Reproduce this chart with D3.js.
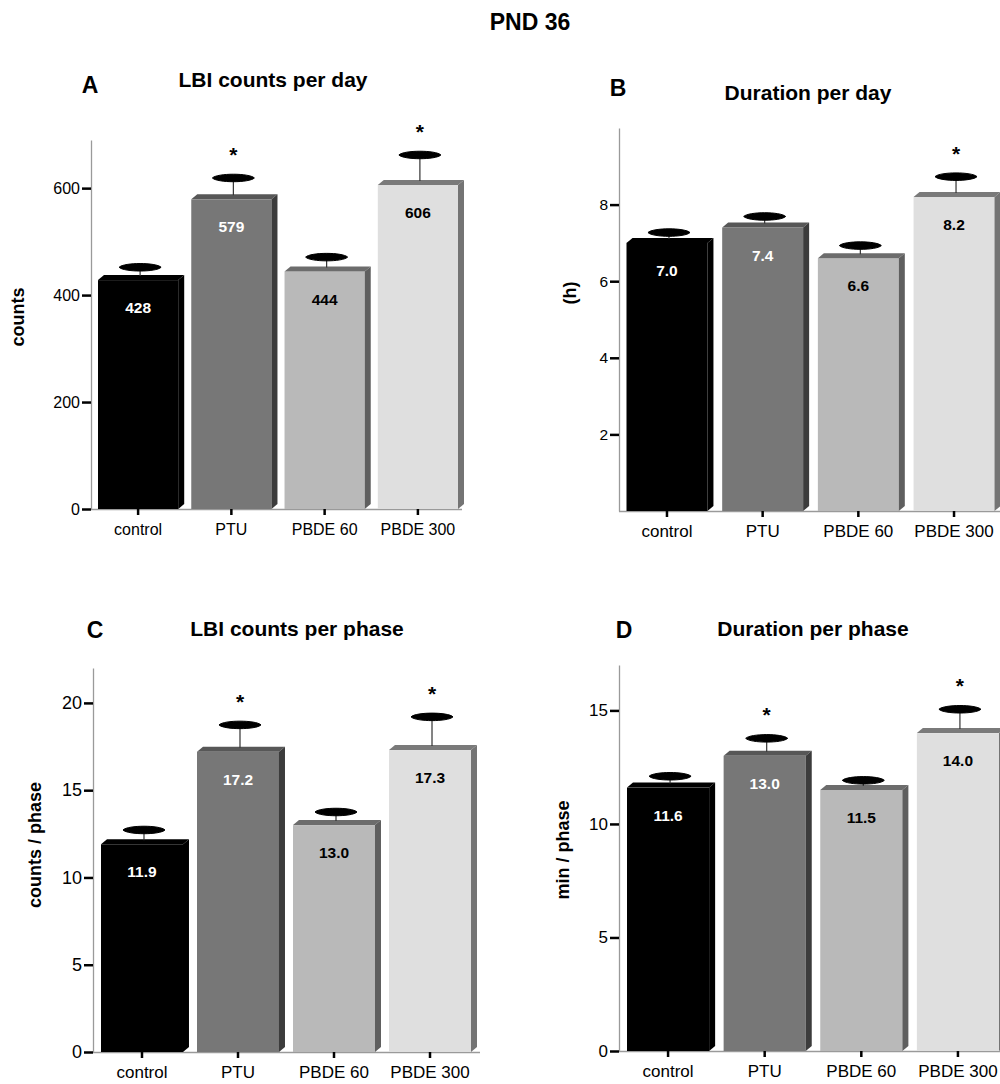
<!DOCTYPE html>
<html>
<head>
<meta charset="utf-8">
<script src="https://cdn.jsdelivr.net/npm/d3@7"></script>
<style>
  html, body { margin: 0; padding: 0; background: #fff; }
  svg { display: block; }
</style>
</head>
<body>
<svg id="chart" width="1000" height="1084"></svg>
<script>
// Groups shared by all four panels
const categories = ["control", "PTU", "PBDE 60", "PBDE 300"];

// A: LBI counts per day (mean, SEM, significance)
const countsPerDay = [428, 579, 444, 606];
const countsPerDaySem = [24, 40, 27, 56];
const countsPerDaySig = [false, true, false, true];
const countsPerDayTicks = [0, 200, 400, 600];

// B: duration per day, hours
const durationPerDay = [7.0, 7.4, 6.6, 8.2];
const durationPerDaySem = [0.27, 0.29, 0.33, 0.53];
const durationPerDaySig = [false, false, false, true];
const durationPerDayTicks = [2, 4, 6, 8];

// C: LBI counts per phase
const countsPerPhase = [11.9, 17.2, 13.0, 17.3];
const countsPerPhaseSem = [0.82, 1.54, 0.75, 1.9];
const countsPerPhaseSig = [false, true, false, true];
const countsPerPhaseTicks = [0, 5, 10, 15, 20];

// D: duration per phase, minutes
const durationPerPhase = [11.6, 13.0, 11.5, 14.0];
const durationPerPhaseSem = [0.5, 0.77, 0.42, 1.05];
const durationPerPhaseSig = [false, true, false, true];
const durationPerPhaseTicks = [0, 5, 10, 15];

// Bar shading per group: front, top and side faces, value label colour
const faceColors = [
  { front: "#000000", top: "#000000", side: "#000000", label: "#ffffff" },
  { front: "#777777", top: "#575757", side: "#3c3c3c", label: "#ffffff" },
  { front: "#b9b9b9", top: "#6c6c6c", side: "#5f5f5f", label: "#000000" },
  { front: "#dfdfdf", top: "#7a7a7a", side: "#747474", label: "#000000" }
];

const FONT = "'Liberation Sans', Arial, Helvetica, sans-serif";
const svg = d3.select("#chart");

svg.append("text")
  .attr("x", 530).attr("y", 30)
  .attr("text-anchor", "middle")
  .attr("font-family", FONT).attr("font-weight", "bold").attr("font-size", 23)
  .text("PND 36");

function drawPanel(p) {
  const g = svg.append("g");
  const depthX = 6, depthY = 5;

  const y = d3.scaleLinear().domain([0, p.yMax]).range([p.y0, p.yTop]);
  const x = d3.scaleBand().domain(categories).range(p.xRange)
    .paddingInner(p.padInner).paddingOuter(0);
  const bw = x.bandwidth();

  // panel letter and title
  g.append("text").attr("x", p.letterPos[0]).attr("y", p.letterPos[1])
    .attr("text-anchor", "middle")
    .attr("font-family", FONT).attr("font-weight", "bold").attr("font-size", 23)
    .text(p.letter);
  g.append("text").attr("x", p.titlePos[0]).attr("y", p.titlePos[1])
    .attr("text-anchor", "middle")
    .attr("font-family", FONT).attr("font-weight", "bold").attr("font-size", 21)
    .text(p.title);

  // y axis title
  g.append("text")
    .attr("transform", `translate(${p.yLabelPos[0]},${p.yLabelPos[1]}) rotate(-90)`)
    .attr("text-anchor", "middle").attr("dy", "0.36em")
    .attr("font-family", FONT).attr("font-weight", "bold").attr("font-size", 18)
    .text(p.yLabel);

  // x axis base line
  g.append("line")
    .attr("x1", p.axisX).attr("x2", p.xLineEnd)
    .attr("y1", p.y0 + 0.5).attr("y2", p.y0 + 0.5)
    .attr("stroke", "#9a9a9a").attr("stroke-width", 1.3);

  const rows = categories.map((c, i) => ({
    cat: c, v: p.values[i], sem: p.sem[i], sig: p.sig[i], col: faceColors[i]
  }));

  const bars = g.selectAll("g.bar").data(rows).join("g").attr("class", "bar");

  // front face
  bars.append("rect")
    .attr("x", d => x(d.cat)).attr("y", d => y(d.v))
    .attr("width", bw).attr("height", d => y(0) - y(d.v))
    .attr("fill", d => d.col.front);
  // top face
  bars.append("path")
    .attr("d", d => {
      const x0 = x(d.cat), x1 = x0 + bw, t = y(d.v);
      return `M${x0},${t}L${x0 + depthX},${t - depthY}L${x1 + depthX},${t - depthY}L${x1},${t}Z`;
    })
    .attr("fill", d => d.col.top);
  // side face
  bars.append("path")
    .attr("d", d => {
      const x1 = x(d.cat) + bw, t = y(d.v), b = y(0);
      return `M${x1},${t}L${x1 + depthX},${t - depthY}L${x1 + depthX},${b - depthY}L${x1},${b}Z`;
    })
    .attr("fill", d => d.col.side);

  // error bars: stem and thick lens-shaped cap
  const cx = d => x(d.cat) + bw / 2 + 2;
  bars.append("line")
    .attr("x1", cx).attr("x2", cx)
    .attr("y1", d => y(d.v) - depthY + 1).attr("y2", d => y(d.v + d.sem))
    .attr("stroke", "#333").attr("stroke-width", 1.2);
  bars.append("path")
    .attr("d", d => {
      const c = cx(d), cy = y(d.v + d.sem), hw = 21, h = 5;
      return `M${c - hw},${cy}C${c - 16},${cy - h} ${c + 16},${cy - h} ${c + hw},${cy}` +
             `C${c + 16},${cy + h} ${c - 16},${cy + h} ${c - hw},${cy}Z`;
    })
    .attr("fill", "#000").attr("stroke", "#000").attr("stroke-width", 1);

  // significance marks
  bars.filter(d => d.sig).append("text")
    .attr("x", cx).attr("y", d => y(d.v + d.sem) - 16)
    .attr("text-anchor", "middle")
    .attr("font-family", FONT).attr("font-weight", "bold").attr("font-size", 21)
    .text("*");

  // value labels inside the bars
  bars.append("text")
    .attr("x", d => x(d.cat) + bw / 2).attr("y", d => y(d.v) + 33)
    .attr("text-anchor", "middle")
    .attr("font-family", FONT).attr("font-weight", "bold").attr("font-size", 15.5)
    .attr("fill", d => d.col.label)
    .text(d => d.v.toFixed(p.decimals));

  // y axis
  const yAxis = g.append("g")
    .attr("transform", `translate(${p.axisX},0)`)
    .call(d3.axisLeft(y).tickValues(p.ticks).tickSize(9).tickSizeOuter(0).tickPadding(2)
      .tickFormat(d3.format("d")))
    .attr("font-family", FONT).attr("font-size", p.tickFont);
  yAxis.select(".domain").attr("stroke", "#9a9a9a").attr("stroke-width", 1.3);
  yAxis.selectAll(".tick line").attr("stroke", "#000").attr("stroke-width", 2.5);
  yAxis.selectAll(".tick text").attr("fill", "#000");

  // x axis ticks and group names
  const xAxis = g.append("g")
    .attr("transform", `translate(0,${p.y0})`)
    .call(d3.axisBottom(x).tickSize(6).tickPadding(p.xPad))
    .attr("font-family", FONT).attr("font-size", p.xFont);
  xAxis.select(".domain").remove();
  xAxis.selectAll(".tick line").attr("stroke", "#000").attr("stroke-width", 2.5);
  xAxis.selectAll(".tick text").attr("fill", "#000");
}

drawPanel({
  letter: "A", letterPos: [90, 93], title: "LBI counts per day", titlePos: [273, 87],
  yLabel: "counts", yLabelPos: [18, 317],
  values: countsPerDay, sem: countsPerDaySem, sig: countsPerDaySig, ticks: countsPerDayTicks,
  decimals: 0, yMax: 690, y0: 509, yTop: 140, axisX: 91, xLineEnd: 462,
  xRange: [98, 458], padInner: 0.14, tickFont: 16, xFont: 16, xPad: 9
});

drawPanel({
  letter: "B", letterPos: [618, 96], title: "Duration per day", titlePos: [808, 100],
  yLabel: "(h)", yLabelPos: [570, 293],
  values: durationPerDay, sem: durationPerDaySem, sig: durationPerDaySig, ticks: durationPerDayTicks,
  decimals: 1, yMax: 10, y0: 511, yTop: 128, axisX: 619, xLineEnd: 1000,
  xRange: [626.5, 994.5], padInner: 0.154, tickFont: 15.5, xFont: 17, xPad: 8
});

drawPanel({
  letter: "C", letterPos: [95, 638], title: "LBI counts per phase", titlePos: [297, 636],
  yLabel: "counts / phase", yLabelPos: [35, 845],
  values: countsPerPhase, sem: countsPerPhaseSem, sig: countsPerPhaseSig, ticks: countsPerPhaseTicks,
  decimals: 1, yMax: 22, y0: 1052, yTop: 668, axisX: 93, xLineEnd: 480,
  xRange: [101, 471], padInner: 0.146, tickFont: 18, xFont: 17, xPad: 8
});

drawPanel({
  letter: "D", letterPos: [624, 638], title: "Duration per phase", titlePos: [813, 636],
  yLabel: "min / phase", yLabelPos: [563, 850],
  values: durationPerPhase, sem: durationPerPhaseSem, sig: durationPerPhaseSig, ticks: durationPerPhaseTicks,
  decimals: 1, yMax: 17, y0: 1051, yTop: 665, axisX: 619, xLineEnd: 1000,
  xRange: [627, 999], padInner: 0.15, tickFont: 17, xFont: 17, xPad: 8
});
</script>
</body>
</html>
